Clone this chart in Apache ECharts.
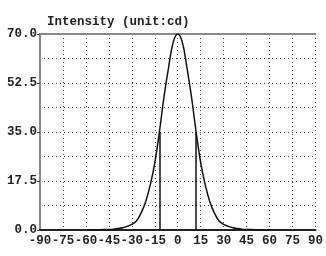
<!DOCTYPE html>
<html lang="en">
<head>
    <meta charset="UTF-8">
    <title>Intensity</title>
    <style>
        *{
            margin: 0;
            padding: 0;
        }
        .main{
            width: 326px;
            height: 256px;
            background: #ffffff;
        }
    </style>
    <script src="https://cdn.jsdelivr.net/npm/echarts@6/dist/echarts.min.js"></script>
</head>
<body>
<div class="main"></div>
<script>
    let angles = [-60, -54, -48, -45, -42, -39, -36, -33, -30, -27, -24, -21, -18, -15, -12, -9, -6, -3, 0,
        3, 6, 9, 12, 15, 18, 21, 24, 27, 30, 33, 36, 39, 42, 45, 48, 54, 60];
    let intensity = [0, 0.05, 0.15, 0.2, 0.3, 0.5, 0.8, 1.3, 2.0, 3.2, 6.0, 10, 16, 24, 35, 47.5, 58, 67, 70,
        67, 58, 47.5, 35, 24, 16, 10, 6.0, 3.2, 2.0, 1.3, 0.8, 0.5, 0.3, 0.2, 0.15, 0.05, 0];
    let halfAngles = [-12, 12];
    let halfValue = 35;
    let titleText = 'Intensity (unit:cd)';

    let main = document.querySelector('.main');
    let chart = echarts.init(main);
    let font = 'Liberation Mono';
    // dotted grid, like the original plot
    let dots = {
        show: true,
        lineStyle: {color: '#444', type: [1, 3], width: 1}
    };
    let option = {
        animation: false,
        title: {
            text: titleText,
            left: 42,
            top: 10,
            textStyle: {fontFamily: font, fontSize: 12.5, fontWeight: 'bold', color: '#222'}
        },
        grid: {left: 40, right: 4, top: 34, bottom: 26},
        xAxis: [{
            type: 'value',
            min: -90,
            max: 90,
            interval: 15,
            axisLine: {onZero: false, lineStyle: {color: '#222', width: 2}},
            axisTick: {show: false},
            axisLabel: {
                fontFamily: font, fontSize: 12.5, fontWeight: 'bold', color: '#222', margin: 4,
                showMaxLabel: true, showMinLabel: true
            },
            splitLine: dots
        }, {
            type: 'value',
            position: 'top',
            min: -90,
            max: 90,
            axisLine: {show: true, onZero: false, lineStyle: {color: '#888', width: 2}},
            axisTick: {show: false},
            axisLabel: {show: false},
            splitLine: {show: false}
        }],
        yAxis: {
            type: 'value',
            min: 0,
            max: 70,
            interval: 17.5,
            axisLine: {show: true, onZero: false, lineStyle: {color: '#888', width: 2}},
            axisTick: {show: true, length: 3, lineStyle: {color: '#444'}},
            minorTick: {show: false, splitNumber: 2},
            minorSplitLine: dots,
            axisLabel: {
                fontFamily: font, fontSize: 12.5, fontWeight: 'bold', color: '#222', margin: 3,
                formatter: v => v.toFixed(1)
            },
            splitLine: dots
        },
        series: [{
            type: 'line',
            data: angles.map((a, i) => [a, intensity[i]]),
            smooth: 0.4,
            symbol: 'none',
            lineStyle: {color: '#111', width: 1.5},
            markLine: {
                symbol: 'none',
                silent: true,
                label: {show: false},
                lineStyle: {color: '#111', width: 1.5, type: 'solid'},
                data: halfAngles.map(a => [{coord: [a, 0]}, {coord: [a, halfValue]}])
            }
        }]
    };
    chart.setOption(option);
</script>
</body>
</html>
